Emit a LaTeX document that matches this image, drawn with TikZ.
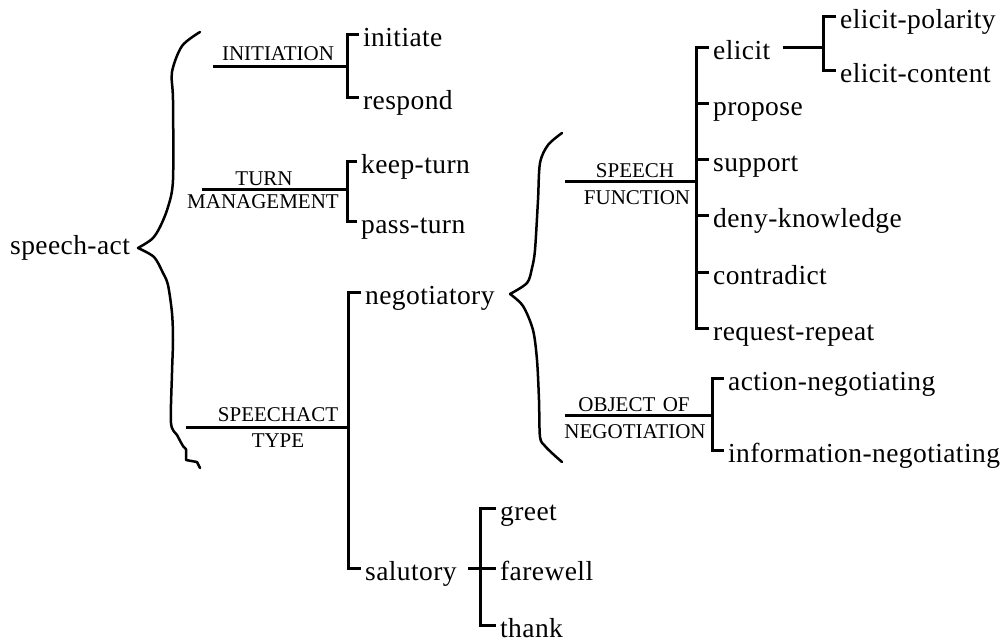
\documentclass[tikz,border=0pt]{standalone}
\usepackage{fontspec}
\setmainfont{Liberation Serif}
\newfontfamily\lblfont[LetterSpace=1.5]{Liberation Serif}
\newfontfamily\capfont{Liberation Serif}
\tikzset{
  lbl/.style={font=\lblfont\fontsize{27.5}{30}\selectfont, inner sep=0pt, anchor=base west},
  capl/.style={font=\capfont\fontsize{21}{24}\selectfont, inner sep=0pt, anchor=base},
  treeline/.style={line width=3pt, line cap=butt, line join=miter},
  bracel/.style={line width=2.5pt, line join=round, line cap=round},
  tickofs/.style={shift={(-4pt,12pt)}}
}
\begin{document}
\begin{tikzpicture}[x=1pt,y=-1pt]
\path[use as bounding box] (0,0) rectangle (1004,643);

% ---------- text nodes ----------
\node[lbl] (sa)   at (10,254)  {speech-act};
\node[lbl] (init) at (363,46)  {initiate};
\node[lbl] (resp) at (363,109) {respond};
\node[lbl] (keep) at (361,173) {keep-turn};
\node[lbl] (pass) at (361,233) {pass-turn};
\node[lbl] (neg)  at (365,304) {negotiatory};
\node[lbl] (sal)  at (365,580) {salutory};
\node[lbl] (greet) at (500,520) {greet};
\node[lbl] (fare)  at (500,580) {farewell};
\node[lbl] (thank) at (500,637) {thank};
\node[lbl] (eli)  at (713,59)  {elicit};
\node[lbl] (elp)  at (840,28)  {elicit-polarity};
\node[lbl] (elc)  at (840,82)  {elicit-content};
\node[lbl] (prop) at (713,115) {propose};
\node[lbl] (supp) at (713,171) {support};
\node[lbl] (deny) at (713,227) {deny-knowledge};
\node[lbl] (contr) at (713,284) {contradict};
\node[lbl] (rr)   at (713,340) {request-repeat};
\node[lbl] (act)  at (728,390) {action-negotiating};
\node[lbl] (info) at (728,462) {information-negotiating};

% ---------- caps labels ----------
\node[capl] (initL)  at (278,60)  {INITIATION};
\node[capl] (turnA)  at (264,185) {TURN};
\node[capl] (turnB)  at (263,208) {MANAGEMENT};
\node[capl] (satA)   at (278,421) {SPEECHACT};
\node[capl] (satB)   at (278,447) {TYPE};
\node[capl] (sfA)    at (635,177) {SPEECH};
\node[capl] (sfB)    at (637,204) {FUNCTION};
\node[capl] (onA)    at (634,411) {OBJECT\hspace{0.35em}OF};
\node[capl] (onB)    at (635,438) {NEGOTIATION};

% ---------- tick end points ----------
\foreach \n in {init,resp,keep,pass,neg,sal,greet,fare,thank,eli,elp,elc,prop,supp,deny,contr,rr,act,info}
  \coordinate (\n T) at ([tickofs]\n.base west);

% ---------- joints ----------
\coordinate (initS) at (213,66);  \coordinate (initJ) at (347,66);
\coordinate (turnS) at (202,189); \coordinate (turnJ) at (347,189);
\coordinate (satS)  at (186,427); \coordinate (satJ)  at (348,427);
\coordinate (sfS)   at (565,181); \coordinate (sfJ)   at (696,181);
\coordinate (onS)   at (565,415); \coordinate (onJ)   at (712,415);
\coordinate (elS)   at (783,47);  \coordinate (elJ)   at (823,47);
\coordinate (salS)  at (468,570); \coordinate (salJ)  at (480,570);

% ---------- tree lines ----------
\draw[treeline] (initS) -- (initJ);
\draw[treeline] (initT) -| (initJ) |- (respT);
\draw[treeline] (turnS) -- (turnJ);
\draw[treeline] (keepT) -| (turnJ) |- (passT);
\draw[treeline] (satS) -- (satJ);
\draw[treeline] (negT) -| (satJ) |- (salT);
\draw[treeline] (sfS) -- (sfJ);
\draw[treeline] (eliT) -| (sfJ) |- (rrT);
\foreach \n in {prop,supp,deny,contr}
  \draw[treeline] (\n T -| sfJ) -- (\n T);
\draw[treeline] (elS) -- (elJ);
\draw[treeline] (elpT) -| (elJ) |- (elcT);
\draw[treeline] (onS) -- (onJ);
\draw[treeline] (actT) -| (onJ) |- (infoT);
\draw[treeline] (greetT) -| (salJ) |- (thankT);
\draw[treeline] (salS |- fareT) -- (fareT);

% ---------- braces ----------
\coordinate (saTip) at (138,248);
\draw[bracel] plot[smooth, tension=0.5] coordinates {(200,32) (182,46) (172,72) (173,100) (173,180) (168,207) (160,227) (152,239) (saTip)};
\draw[bracel] plot[smooth, tension=0.5] coordinates {(saTip) (154,257) (163,273) (168,285) (172,313) (173,340) (172,373) (171,423) (177,435) (183,446) (186,449)}
  -- (186,460) -- (197,462) -- (200,468);
\coordinate (negTip) at (510,294);
\draw[bracel] plot[smooth, tension=0.5] coordinates {(562,133) (548,145) (540,163) (538,200) (535,250) (532,268) (527,283) (negTip)};
\draw[bracel] plot[smooth, tension=0.5] coordinates {(negTip) (523,306) (533,330) (537,360) (539,400) (540,437) (545,446) (553,454) (562,462)};
\end{tikzpicture}
\end{document}
